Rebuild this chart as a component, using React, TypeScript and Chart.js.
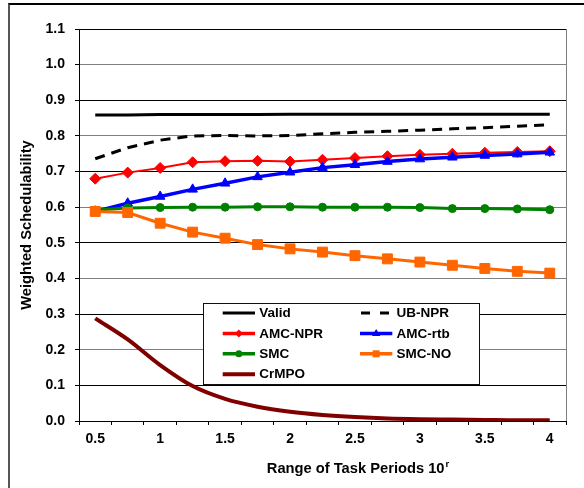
import React, { useEffect, useRef } from 'react';
import { Chart, registerables } from 'chart.js';

Chart.register(...registerables);

const categories = ['0.5', '0.75', '1', '1.25', '1.5', '1.75', '2', '2.25', '2.5', '2.75', '3', '3.25', '3.5', '3.75', '4'];
const validVals = [0.859, 0.859, 0.86, 0.86, 0.86, 0.86, 0.861, 0.861, 0.861, 0.861, 0.861, 0.861, 0.861, 0.861, 0.861];
const ubNprVals = [0.736, 0.767, 0.788, 0.8, 0.801, 0.8, 0.801, 0.806, 0.81, 0.813, 0.816, 0.82, 0.823, 0.827, 0.831];
const amcNprVals = [0.68, 0.697, 0.71, 0.726, 0.729, 0.73, 0.728, 0.733, 0.738, 0.743, 0.747, 0.75, 0.753, 0.755, 0.757];
const amcRtbVals = [0.588, 0.611, 0.63, 0.65, 0.667, 0.685, 0.698, 0.711, 0.719, 0.728, 0.735, 0.74, 0.745, 0.749, 0.754];
const smcVals = [0.592, 0.598, 0.599, 0.6, 0.6, 0.601, 0.601, 0.6, 0.6, 0.6, 0.599, 0.596, 0.596, 0.595, 0.593];
const smcNoVals = [0.588, 0.585, 0.555, 0.53, 0.513, 0.495, 0.483, 0.474, 0.464, 0.455, 0.446, 0.437, 0.428, 0.42, 0.415];
const crmpoVals = [0.288, 0.229, 0.157, 0.098, 0.062, 0.04, 0.026, 0.017, 0.011, 0.007, 0.005, 0.004, 0.003, 0.002, 0.002];

const yTitle = 'Weighted Schedulability';
const xTitleMain = 'Range of Task Periods 10';
const xTitleSup = 'r';

const FONT = '"Liberation Sans", Arial, Helvetica, sans-serif';

type LegendStyle = { marker: string | null; mr: number; lw: number; dash: number[] };
const legendStyles: LegendStyle[] = [
  { marker: null, mr: 0, lw: 3, dash: [] },
  { marker: null, mr: 0, lw: 3, dash: [9, 10] },
  { marker: 'diamond', mr: 4, lw: 3.5, dash: [] },
  { marker: 'triangle', mr: 4.5, lw: 3.5, dash: [] },
  { marker: 'circle', mr: 3.5, lw: 3.5, dash: [] },
  { marker: 'square', mr: 3.5, lw: 3.5, dash: [] },
  { marker: null, mr: 0, lw: 4, dash: [] },
];

function drawMarker(ctx: CanvasRenderingContext2D, kind: string, x: number, y: number, r: number) {
  ctx.beginPath();
  if (kind === 'diamond') {
    ctx.moveTo(x, y - r); ctx.lineTo(x + r, y); ctx.lineTo(x, y + r); ctx.lineTo(x - r, y); ctx.closePath();
  } else if (kind === 'triangle') {
    ctx.moveTo(x, y - r); ctx.lineTo(x + r * 0.95, y + r * 0.6); ctx.lineTo(x - r * 0.95, y + r * 0.6); ctx.closePath();
  } else if (kind === 'circle') {
    ctx.arc(x, y, r, 0, Math.PI * 2);
  } else if (kind === 'square') {
    ctx.rect(x - r, y - r, 2 * r, 2 * r);
  }
  ctx.fill();
}

const boxLegendPlugin = {
  id: 'boxLegend',
  afterDraw(chart: any) {
    const { ctx, chartArea: a } = chart;
    const bx = a.left + 124;
    const by = a.top + 274;
    const bw = 276;
    const bh = 81;
    ctx.save();
    ctx.fillStyle = '#fff';
    ctx.fillRect(bx, by, bw, bh);
    ctx.strokeStyle = '#111';
    ctx.lineWidth = 1;
    ctx.setLineDash([]);
    ctx.strokeRect(bx + 0.5, by + 0.5, bw, bh);
    chart.data.datasets.forEach((ds: any, i: number) => {
      const st = legendStyles[i];
      const row = Math.floor(i / 2);
      const col = i % 2;
      const cy = by + 10 + row * 20.4;
      const x0 = bx + 19.7 + col * 137.3;
      const x1 = x0 + 32.3;
      ctx.strokeStyle = ds.borderColor;
      ctx.fillStyle = ds.borderColor;
      ctx.lineWidth = st.lw;
      ctx.setLineDash(st.dash);
      ctx.beginPath();
      ctx.moveTo(x0 + (st.dash.length ? 1 : 0), cy);
      ctx.lineTo(x1, cy);
      ctx.stroke();
      ctx.setLineDash([]);
      if (st.marker) drawMarker(ctx, st.marker, (x0 + x1) / 2, cy, st.mr);
      ctx.fillStyle = '#000';
      ctx.font = `bold 13.5px ${FONT}`;
      ctx.textBaseline = 'middle';
      ctx.textAlign = 'left';
      ctx.fillText(ds.label, x1 + 4.3, cy + 0.5);
    });
    ctx.restore();
  },
};

const xTitlePlugin = {
  id: 'xTitleSup',
  afterDraw(chart: any) {
    const { ctx, chartArea: a } = chart;
    ctx.save();
    const f = `bold 14.7px ${FONT}`;
    const sf = `bold 9.5px ${FONT}`;
    ctx.font = f;
    const w1 = ctx.measureText(xTitleMain).width;
    ctx.font = sf;
    const w2 = ctx.measureText(xTitleSup).width;
    const cx = a.left + 279;
    const x = cx - (w1 + w2 + 1) / 2;
    const y = a.bottom + 51.5;
    ctx.fillStyle = '#000';
    ctx.textBaseline = 'alphabetic';
    ctx.textAlign = 'left';
    ctx.font = f;
    ctx.fillText(xTitleMain, x, y);
    ctx.font = sf;
    ctx.fillText(xTitleSup, x + w1 + 1, y - 5.5);
    ctx.restore();
  },
};

const rightBorderPlugin = {
  id: 'rightBorder',
  beforeDatasetsDraw(chart: any) {
    const { ctx, chartArea: a } = chart;
    ctx.save();
    ctx.strokeStyle = '#808080';
    ctx.lineWidth = 1;
    ctx.beginPath();
    ctx.moveTo(Math.round(a.right) + 0.5, a.top);
    ctx.lineTo(Math.round(a.right) + 0.5, a.bottom);
    ctx.stroke();
    ctx.restore();
  },
};

export default function App() {
  const ref = useRef<HTMLCanvasElement | null>(null);

  useEffect(() => {
    if (!ref.current) return;
    const n = 7;
    const chart = new Chart(ref.current, {
      type: 'line',
      data: {
        labels: categories,
        datasets: [
          { label: 'Valid', data: validVals, borderColor: '#000000', backgroundColor: '#000000', borderWidth: 3, pointRadius: 0, order: n - 0 },
          { label: 'UB-NPR', data: ubNprVals, borderColor: '#000000', backgroundColor: '#000000', borderWidth: 3, borderDash: [10, 7], pointRadius: 0, order: n - 1 },
          { label: 'AMC-NPR', data: amcNprVals, borderColor: '#ff0000', backgroundColor: '#ff0000', borderWidth: 2, pointStyle: 'rectRot', pointRadius: 5.5, pointBorderWidth: 1, order: n - 2 },
          { label: 'AMC-rtb', data: amcRtbVals, borderColor: '#0000ff', backgroundColor: '#0000ff', borderWidth: 3.5, pointStyle: 'triangle', pointRadius: 5.5, pointBorderWidth: 1, order: n - 3 },
          { label: 'SMC', data: smcVals, borderColor: '#008000', backgroundColor: '#008000', borderWidth: 3, pointStyle: 'circle', pointRadius: 4, pointBorderWidth: 1, order: n - 4 },
          { label: 'SMC-NO', data: smcNoVals, borderColor: '#ff6600', backgroundColor: '#ff6600', borderWidth: 3, pointStyle: 'rect', pointRadius: 7, pointBorderWidth: 1, order: n - 5 },
          { label: 'CrMPO', data: crmpoVals, borderColor: '#800000', backgroundColor: '#800000', borderWidth: 4, pointRadius: 0, cubicInterpolationMode: 'monotone', order: n - 6 },
        ] as any,
      },
      options: {
        animation: false,
        responsive: false,
        devicePixelRatio: 1,
        layout: { padding: { top: 24, right: 18, left: 0, bottom: 0 } },
        plugins: {
          legend: { display: false },
          tooltip: { enabled: false },
        },
        scales: {
          x: {
            type: 'category',
            offset: true,
            afterFit: (s: any) => { s.height = 67; },
            grid: { display: true, offset: true, drawOnChartArea: false, drawTicks: true, tickLength: 4, color: '#000', tickColor: '#000' },
            border: { display: true, color: '#000', width: 1 },
            ticks: {
              autoSkip: false,
              maxRotation: 0,
              minRotation: 0,
              padding: 6,
              color: '#000',
              font: { family: FONT, size: 14, weight: 'bold' },
              callback: (_v: any, idx: number) => (idx % 2 === 0 ? categories[idx] : ''),
            },
          },
          y: {
            min: 0,
            max: 1.1,
            afterFit: (s: any) => { s.width = 69; },
            grid: {
              drawTicks: true,
              tickLength: 4,
              tickColor: '#000',
              color: (c: any) => {
                const v = c.tick ? Math.round(c.tick.value * 10) : 0;
                if (v === 0) return '#000';
                return v % 2 === 1 ? '#000' : '#808080';
              },
              lineWidth: 1,
            },
            border: { display: true, color: '#000', width: 1 },
            ticks: {
              stepSize: 0.1,
              padding: 10,
              color: '#000',
              font: { family: FONT, size: 14, weight: 'bold' },
              callback: (v: any) => Number(v).toFixed(1),
            },
            title: {
              display: true,
              text: yTitle,
              color: '#000',
              font: { family: FONT, size: 14.7, weight: 'bold' },
              padding: { top: 8, bottom: 0 },
            },
          },
        },
      } as any,
      plugins: [rightBorderPlugin, boxLegendPlugin, xTitlePlugin],
    });
    return () => chart.destroy();
  }, []);

  return (
    <div
      style={{
        position: 'absolute',
        left: 8,
        top: 3,
        width: 576,
        height: 485,
        borderTop: '2px solid #000',
        borderLeft: '2px solid #555',
        boxSizing: 'border-box',
        overflow: 'hidden',
        background: '#fff',
      }}
    >
      <canvas ref={ref} width={574} height={483} style={{ display: 'block' }} />
    </div>
  );
}
